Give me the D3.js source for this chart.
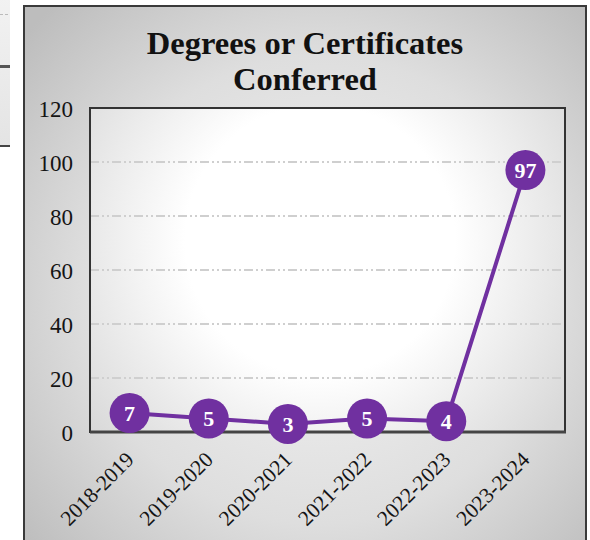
<!DOCTYPE html>
<html><head><meta charset="utf-8">
<script src="https://cdn.jsdelivr.net/npm/d3@7/dist/d3.min.js"></script>
<style>html,body{margin:0;padding:0;background:#fff;}svg{display:block;}</style>
</head><body>
<script>
const categories = ["2018-2019","2019-2020","2020-2021","2021-2022","2022-2023","2023-2024"];
const values = [7,5,3,5,4,97];
const yTicks = [0,20,40,60,80,100,120];
const titleLines = ["Degrees or Certificates","Conferred"];

const W = 590, H = 540;
const serif = "'Liberation Serif', 'Times New Roman', serif";
const svg = d3.select("body").append("svg").attr("width", W).attr("height", H);
const defs = svg.append("defs");

const fg = defs.append("radialGradient").attr("id","frameGrad")
  .attr("gradientUnits","userSpaceOnUse").attr("cx",320).attr("cy",290).attr("r",390);
fg.append("stop").attr("offset","0").attr("stop-color","#f4f4f4");
fg.append("stop").attr("offset","0.6").attr("stop-color","#dedede");
fg.append("stop").attr("offset","1").attr("stop-color","#bdbdbd");

const pg = defs.append("radialGradient").attr("id","plotGrad")
  .attr("gradientUnits","userSpaceOnUse").attr("cx",320).attr("cy",240).attr("r",300);
pg.append("stop").attr("offset","0").attr("stop-color","#ffffff");
pg.append("stop").attr("offset","0.45").attr("stop-color","#ffffff");
pg.append("stop").attr("offset","1").attr("stop-color","#d8d8d8");

const lg = defs.append("linearGradient").attr("id","leftGrad").attr("x1",0).attr("y1",0).attr("x2",0).attr("y2",1);
lg.append("stop").attr("offset","0").attr("stop-color","#f2f2f2");
lg.append("stop").attr("offset","1").attr("stop-color","#e4e4e4");

// partial element at left edge
svg.append("rect").attr("x",-2).attr("y",-2).attr("width",12).attr("height",148).attr("fill","url(#leftGrad)");
svg.append("line").attr("x1",0).attr("x2",8).attr("y1",14.5).attr("y2",14.5).attr("stroke","#bbb").attr("stroke-dasharray","3,2");
svg.append("rect").attr("x",0).attr("y",65).attr("width",10).attr("height",3).attr("fill","#555");
svg.append("rect").attr("x",0).attr("y",145).attr("width",10).attr("height",2).attr("fill","#444");

// frame
svg.append("rect").attr("x",24).attr("y",6).attr("width",562).attr("height",H).attr("fill","url(#frameGrad)")
  .attr("stroke","#3a3a3a").attr("stroke-width",2);

const m = {left:90, top:108, right:565, bottom:432};
svg.append("rect").attr("x",m.left).attr("y",m.top).attr("width",m.right-m.left).attr("height",m.bottom-m.top)
  .attr("fill","url(#plotGrad)");

const x = d3.scalePoint().domain(categories).range([m.left, m.right]).padding(0.5);
const y = d3.scaleLinear().domain([0,120]).range([m.bottom, m.top]);

// grid
svg.append("g").selectAll("line").data(yTicks.filter(t => t>0 && t<120)).join("line")
  .attr("x1", m.left).attr("x2", m.right).attr("y1", d => y(d)).attr("y2", d => y(d))
  .attr("stroke","#cfcfcf").attr("stroke-width",2).attr("stroke-dasharray","9,3,2,3,2,3");

// plot border
svg.append("rect").attr("x",m.left).attr("y",m.top).attr("width",m.right-m.left).attr("height",m.bottom-m.top)
  .attr("fill","none").attr("stroke","#333").attr("stroke-width",2);
svg.append("line").attr("x1",m.left).attr("x2",m.right+1).attr("y1",m.bottom).attr("y2",m.bottom)
  .attr("stroke","#444").attr("stroke-width",3);

// y axis
const yAxis = svg.append("g").attr("transform",`translate(${m.left-17},0)`)
  .call(d3.axisLeft(y).tickValues(yTicks).tickSize(0).tickPadding(0));
yAxis.select(".domain").remove();
yAxis.selectAll("text").attr("font-family",serif)
  .attr("font-size",23).attr("fill","#141414").attr("dy","0.35em");

// x axis
const xAxis = svg.append("g").attr("transform",`translate(0,${m.bottom})`)
  .call(d3.axisBottom(x).tickSize(0).tickPadding(0));
xAxis.select(".domain").remove();
xAxis.selectAll("text")
  .attr("font-family",serif).attr("font-size",21.5).attr("fill","#141414")
  .attr("text-anchor","end").attr("dy",0).attr("y",0)
  .attr("transform","translate(5,29) rotate(-45)");

// line
svg.append("path").datum(values)
  .attr("d", d3.line().x((d,i) => x(categories[i])).y(d => y(d)))
  .attr("fill","none").attr("stroke","#7030a0").attr("stroke-width",4);

const pts = svg.append("g").selectAll("g").data(values).join("g")
  .attr("transform",(d,i) => `translate(${x(categories[i])},${y(d)})`);
pts.append("circle").attr("r",20).attr("fill","#7030a0");
pts.append("text").text(d => d).attr("text-anchor","middle").attr("dy","0.35em")
  .attr("font-family",serif).attr("font-weight","bold")
  .attr("font-size",22).attr("fill","#fff");

// title
svg.append("text").attr("text-anchor","middle")
  .attr("font-family",serif).attr("font-weight","bold")
  .attr("font-size",32.5).attr("fill","#111")
  .selectAll("tspan").data(titleLines).join("tspan")
  .attr("x",305).attr("y",(d,i) => 54 + i*36).text(d => d);
</script>
</body></html>
